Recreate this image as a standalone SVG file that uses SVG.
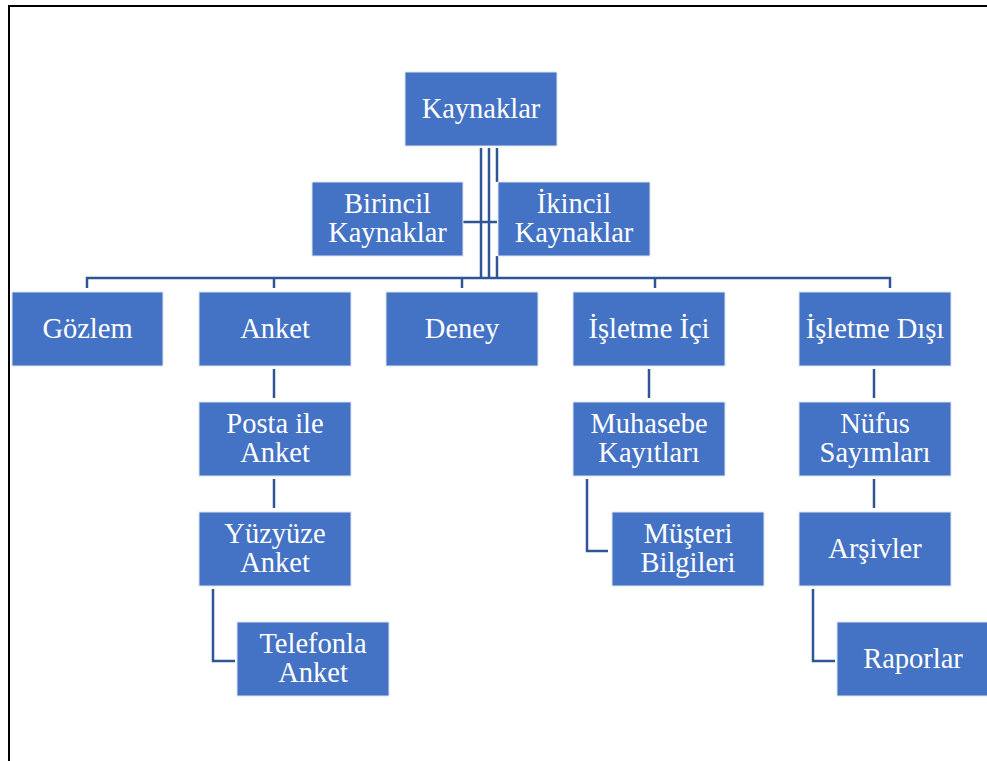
<svg xmlns="http://www.w3.org/2000/svg" width="987" height="761" viewBox="0 0 987 761">
<style>
.box{fill:#4472C4;stroke:#DCE4F2;stroke-width:1}
.t{font-family:"Liberation Serif","Times New Roman",Tinos,"Noto Serif","DejaVu Serif",Times,serif;font-size:28.5px;fill:#FFFFFF;text-anchor:middle}
.c{fill:none;stroke:#2F5597;stroke-width:2.5}
</style>
<rect width="987" height="761" fill="#FFFFFF"/>
<path d="M9,761 V6 H987" fill="none" stroke="#000000" stroke-width="2"/>
<g id="connectors">
<path class="c" d="M481,148 V278 M489,148 V278 M497,148 V182 M497,256 V278"/>
<path class="c" d="M463,222 H497"/>
<path class="c" d="M87,288 V278 H890 V288 M274,278 V288 M462,278 V288 M655,278 V288"/>
<path class="c" d="M274,369 V398 M274,479 V508 M213,589 V661 H235"/>
<path class="c" d="M649,369 V398 M587,479 V551 H608"/>
<path class="c" d="M874,369 V398 M874,479 V508 M813,589 V661 H835"/>
</g>
<g id="n-kaynaklar"><rect class="box" x="405" y="72" width="152" height="74"/><text class="t" x="481" y="118">Kaynaklar</text></g>
<g id="n-birincil"><rect class="box" x="312" y="182" width="151" height="74"/><text class="t" x="387.5" y="213">Birincil</text><text class="t" x="387.5" y="242">Kaynaklar</text></g>
<g id="n-ikincil"><rect class="box" x="498" y="182" width="152" height="74"/><text class="t" x="574" y="213">İkincil</text><text class="t" x="574" y="242">Kaynaklar</text></g>
<g id="n-gozlem"><rect class="box" x="12" y="292" width="151" height="74"/><text class="t" x="87.5" y="338">Gözlem</text></g>
<g id="n-anket"><rect class="box" x="199" y="292" width="152" height="74"/><text class="t" x="275" y="338">Anket</text></g>
<g id="n-deney"><rect class="box" x="386" y="292" width="152" height="74"/><text class="t" x="462" y="338">Deney</text></g>
<g id="n-isletme-ici"><rect class="box" x="573" y="292" width="152" height="74"/><text class="t" x="649" y="338">İşletme İçi</text></g>
<g id="n-isletme-disi"><rect class="box" x="799" y="292" width="152" height="74"/><text class="t" x="875" y="338">İşletme Dışı</text></g>
<g id="n-posta"><rect class="box" x="199" y="402" width="152" height="74"/><text class="t" x="275" y="433">Posta ile</text><text class="t" x="275" y="462">Anket</text></g>
<g id="n-yuzyuze"><rect class="box" x="199" y="512" width="152" height="74"/><text class="t" x="275" y="543">Yüzyüze</text><text class="t" x="275" y="572">Anket</text></g>
<g id="n-telefonla"><rect class="box" x="237" y="622" width="152" height="74"/><text class="t" x="313" y="653">Telefonla</text><text class="t" x="313" y="682">Anket</text></g>
<g id="n-muhasebe"><rect class="box" x="573" y="402" width="152" height="74"/><text class="t" x="649" y="433">Muhasebe</text><text class="t" x="649" y="462">Kayıtları</text></g>
<g id="n-musteri"><rect class="box" x="612" y="512" width="152" height="74"/><text class="t" x="688" y="543">Müşteri</text><text class="t" x="688" y="572">Bilgileri</text></g>
<g id="n-nufus"><rect class="box" x="799" y="402" width="152" height="74"/><text class="t" x="875" y="433">Nüfus</text><text class="t" x="875" y="462">Sayımları</text></g>
<g id="n-arsivler"><rect class="box" x="799" y="512" width="152" height="74"/><text class="t" x="875" y="558">Arşivler</text></g>
<g id="n-raporlar"><rect class="box" x="837" y="622" width="152" height="74"/><text class="t" x="913" y="668">Raporlar</text></g>
</svg>
